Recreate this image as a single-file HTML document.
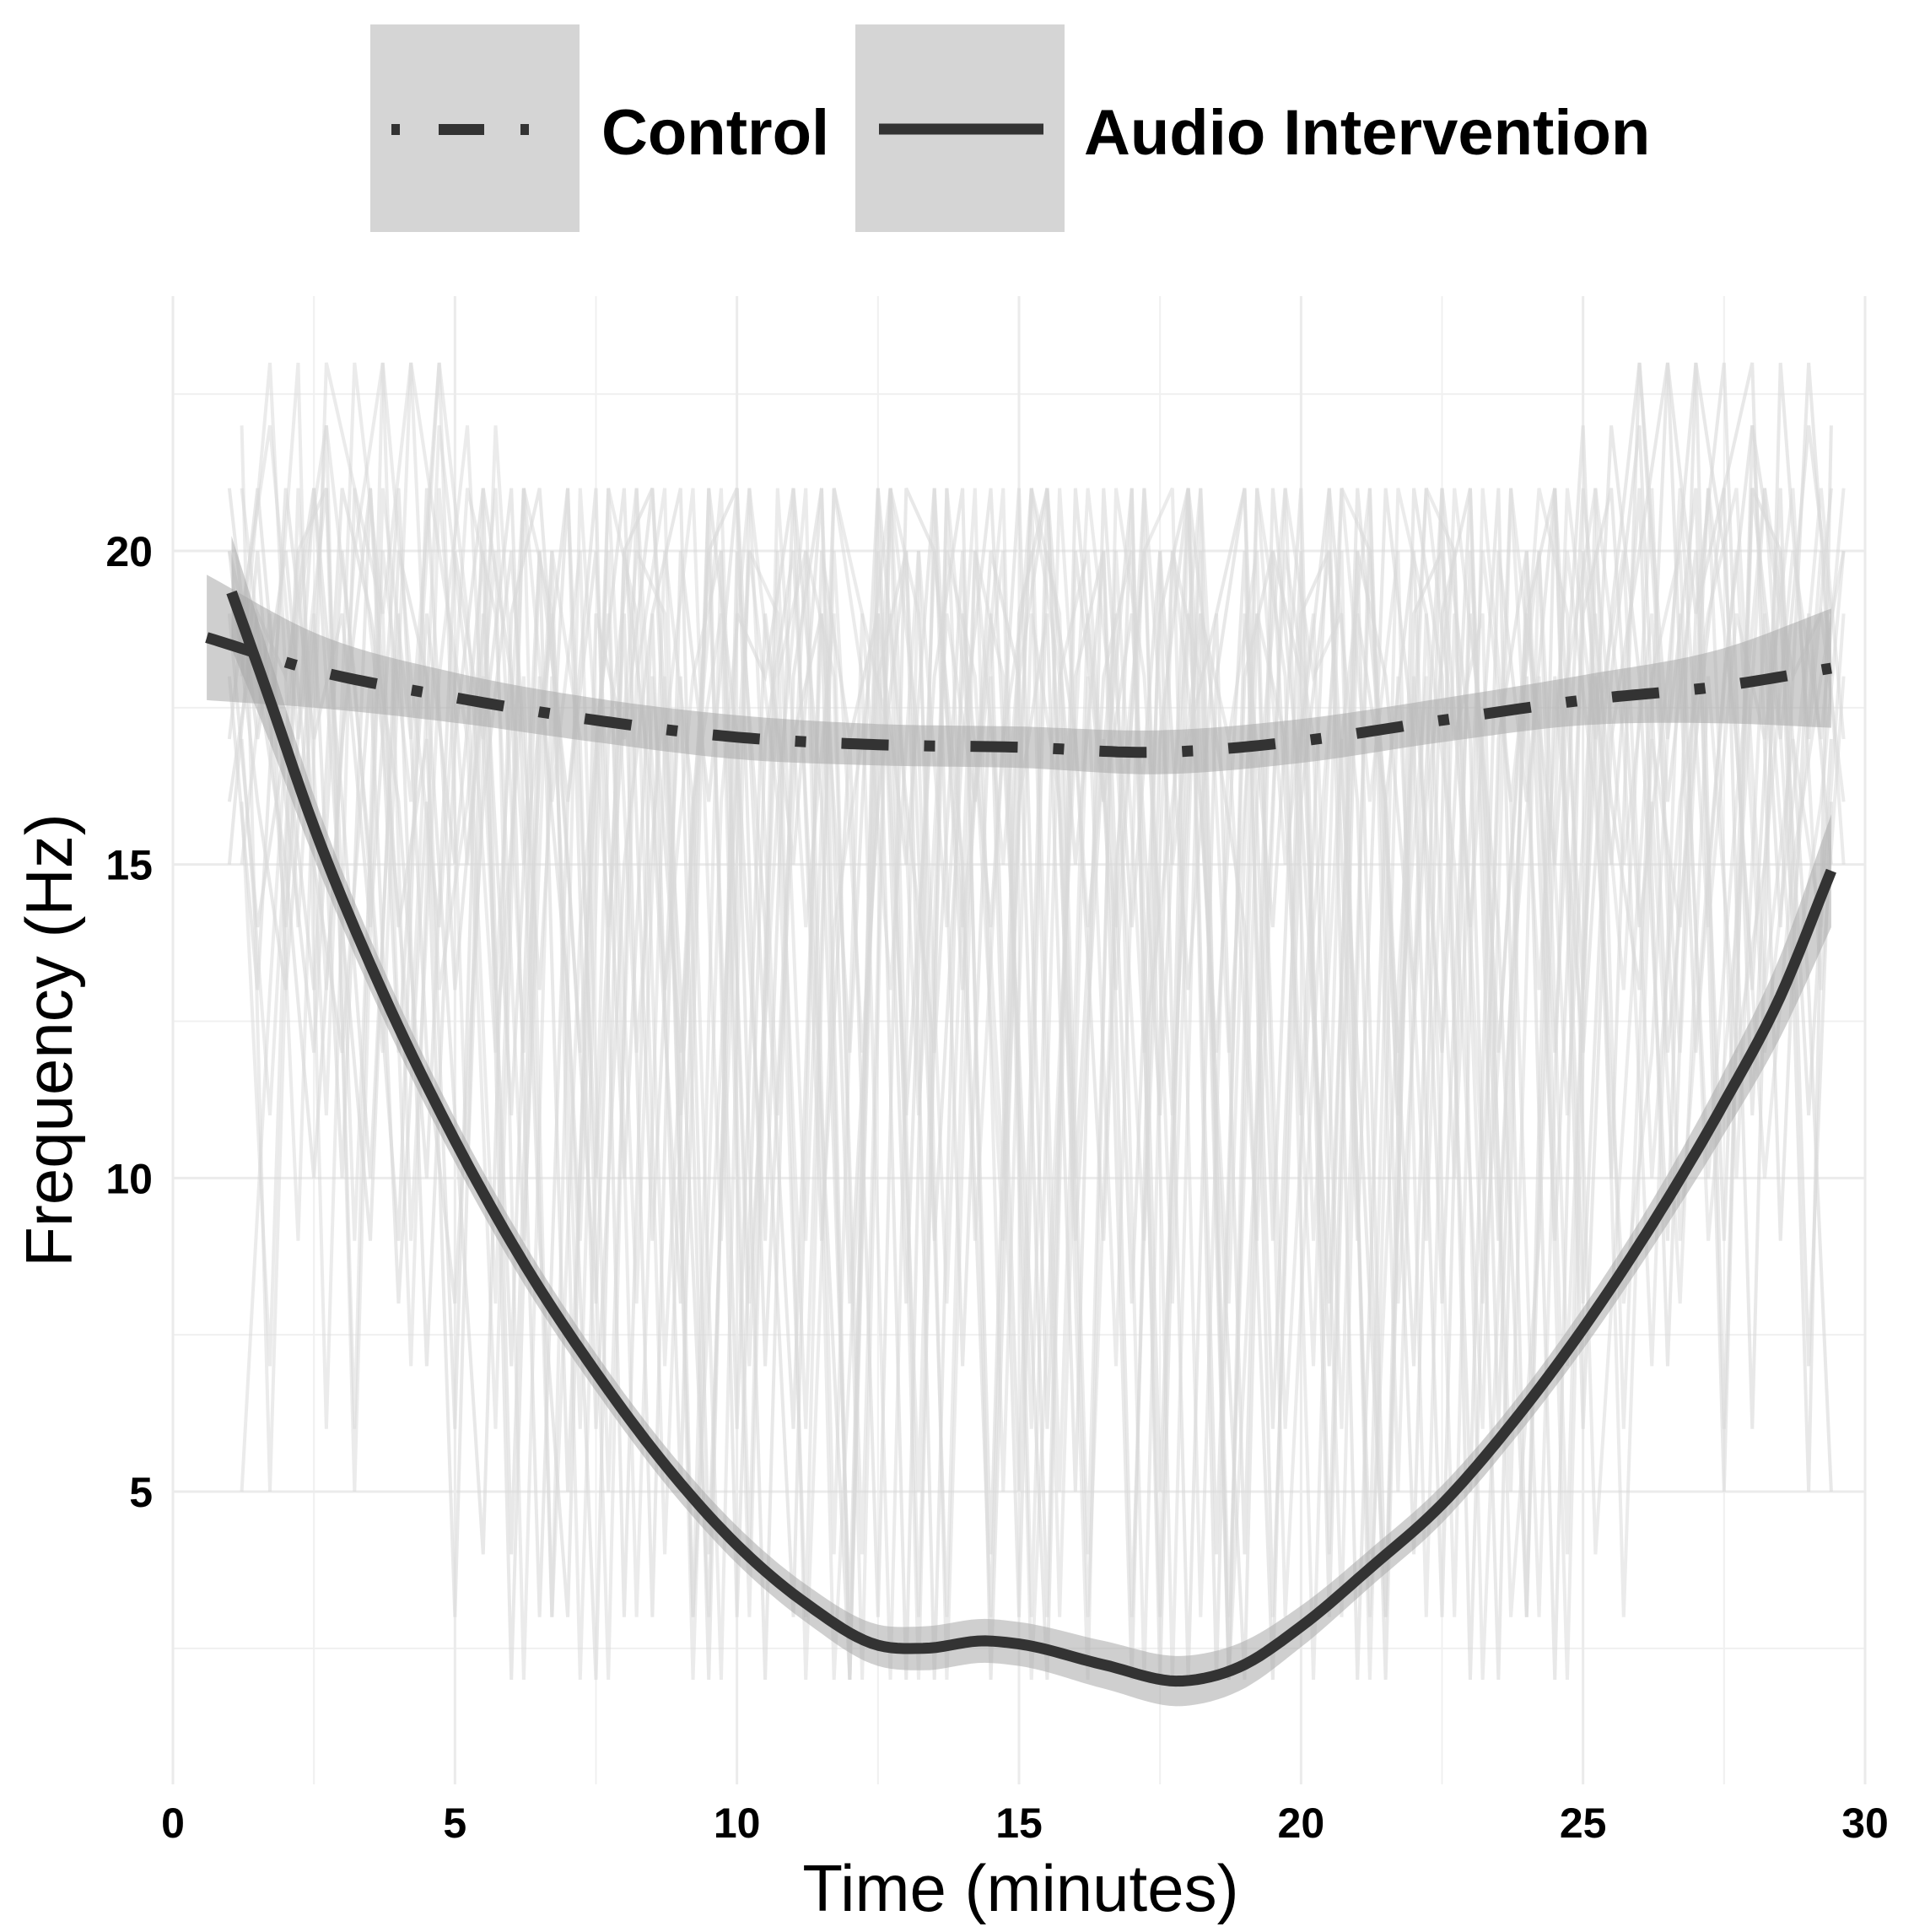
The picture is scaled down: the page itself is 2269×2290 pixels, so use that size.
<!DOCTYPE html>
<html><head><meta charset="utf-8"><style>
html,body{margin:0;padding:0;background:#fff;}
svg{display:block;font-family:"Liberation Sans",sans-serif;}
</style></head><body>
<svg id="chart" width="2269" height="2290" viewBox="0 0 2269 2290">
<g id="grid"></g>
<g id="spaghetti"></g>
<g id="ribbons"></g>
<g id="lines"></g>
<g id="axes"></g>
<g>
  <rect x="439" y="29" width="248" height="246" fill="#d5d5d5"/>
  <g fill="#333">
    <rect x="464" y="147" width="10" height="13"/>
    <rect x="520" y="147" width="54" height="13"/>
    <rect x="617" y="147" width="10" height="13"/>
  </g>
  <text x="713" y="183" font-size="76" font-weight="bold" fill="#000">Control</text>
  <rect x="1014" y="29" width="248" height="246" fill="#d5d5d5"/>
  <line x1="1042" y1="153" x2="1237" y2="153" stroke="#333" stroke-width="13"/>
  <text x="1285" y="183" font-size="76" font-weight="bold" fill="#000">Audio Intervention</text>
</g>
<text x="1210" y="2265" font-size="78" text-anchor="middle" fill="#000">Time (minutes)</text>
<text transform="translate(85,1233) rotate(-90)" x="0" y="0" font-size="78" text-anchor="middle" fill="#000">Frequency (Hz)</text>
</svg>
<script>
const xTicks=[0,5,10,15,20,25,30];
const xMinor=[2.5,7.5,12.5,17.5,22.5,27.5];
const yTicks=[5,10,15,20];
const yMinor=[2.5,7.5,12.5,17.5,22.5];
const controlX=[0.6,2.5,5,7.5,10,12.5,15,17.5,20,22.5,25,27.5,29.4];
const controlY=[18.62,18.1,17.66,17.3,17.03,16.91,16.87,16.79,16.97,17.3,17.62,17.85,18.13];
const controlSE=[1.0,0.6,0.4,0.35,0.35,0.33,0.33,0.35,0.35,0.35,0.4,0.6,0.95];
const audioX=[1.04,1.65,2.5,3.75,5,6.25,7.5,8.75,10,11.25,12.5,13.3,14.4,15,16.5,17.9,18.9,20,21.25,22.5,23.75,25,26.25,27.5,28.5,29.4];
const audioY=[19.34,17.8,15.6,12.9,10.6,8.6,6.9,5.4,4.15,3.2,2.55,2.5,2.62,2.57,2.24,1.98,2.2,2.85,3.8,4.8,6.1,7.6,9.3,11.2,12.9,14.9];
const audioSE=[0.9,0.7,0.5,0.4,0.35,0.33,0.3,0.3,0.3,0.3,0.33,0.35,0.35,0.35,0.38,0.4,0.38,0.33,0.3,0.3,0.3,0.33,0.38,0.5,0.65,0.9];
const traceTimes=[1,1.5,2,2.5,3,3.5,4,4.5,5,5.5,6,6.5,7,7.5,8,8.5,9,9.5,10,10.5,11,11.5,12,12.5,13,13.5,14,14.5,15,15.5,16,16.5,17,17.5,18,18.5,19,19.5,20,20.5,21,21.5,22,22.5,23,23.5,24,24.5,25,25.5,26,26.5,27,27.5,28,28.5,29,29.4];
const trace1=[21,17,20,15,12,18,8,16,3,19,11,20,5,17,21,9,18,2,20,14,6,19,12,21,8,20,15,3,18,21,9,17,2,20,13,19,4,21,16,8,20,3,18,12,21,6,19,15,22,10,23,17,21,5,22,14,23,18];
const trace2=[15,20,14,21,16,10,19,7,17,21,4,18,13,2,20,16,8,21,3,17,20,11,2,19,15,21,7,18,3,20,17,9,21,2,19,12,20,6,17,21,2,16,20,8,19,14,3,21,13,22,18,9,23,20,13,21,7,16];
const trace3=[18,13,21,17,19,14,21,12,8,16,20,13,21,6,15,19,21,4,17,9,21,16,3,20,11,18,21,2,16,19,5,21,14,20,2,18,21,9,20,3,19,16,7,21,17,2,20,12,21,16,13,23,19,21,6,23,17,21];
const trace4=[20,16,13,19,10,21,14,17,6,21,18,3,16,20,10,19,5,21,17,2,18,21,8,16,20,2,19,14,21,6,18,20,3,17,21,11,2,20,18,7,21,16,4,19,21,9,18,2,20,15,21,7,19,23,11,20,5,22];
const trace5=[17,21,16,12,20,15,9,21,13,18,7,20,16,21,3,18,12,20,21,7,17,19,2,21,16,12,20,4,19,21,10,18,20,3,21,17,14,2,19,20,12,3,21,18,5,20,16,21,8,18,22,12,17,21,23,9,19,15];
const trace6=[16,19,18,21,14,9,20,18,11,4,19,21,15,8,20,21,13,3,19,18,21,9,17,3,21,20,14,19,5,21,15,20,8,19,21,4,18,20,11,21,16,2,19,20,14,21,3,18,12,19,23,16,20,9,21,17,22,19];
const trace7=[19,14,17,13,21,19,16,10,20,17,21,9,3,19,17,21,11,20,6,19,15,21,2,18,20,9,17,21,12,2,20,16,21,5,17,19,21,3,16,20,9,21,17,3,20,12,19,21,6,17,20,23,12,18,22,19,11,17];
const trace8=[20,18,15,10,17,21,12,19,15,20,2,17,21,10,19,3,20,16,21,12,3,20,17,19,2,21,13,20,18,3,21,16,19,11,21,2,19,14,21,4,20,18,13,21,2,17,20,9,19,21,14,18,23,6,21,20,13,5];
const traces=[trace1,trace2,trace3,trace4,trace5,trace6,trace7,trace8];

const X0=205,X1=2211,YT=351,YB=2115;
function xs(v){return X0+(v/30)*(X1-X0);}
function ys(v){return 653+(20-v)*(1115/15);}
const NS='http://www.w3.org/2000/svg';
function mk(tag,attrs,parent){const e=document.createElementNS(NS,tag);for(const k in attrs)e.setAttribute(k,attrs[k]);parent.appendChild(e);return e;}
function interp(X,Y){const n=X.length,m=[];for(let i=0;i<n;i++){if(i===0)m.push((Y[1]-Y[0])/(X[1]-X[0]));else if(i===n-1)m.push((Y[n-1]-Y[n-2])/(X[n-1]-X[n-2]));else{const d0=(Y[i]-Y[i-1])/(X[i]-X[i-1]),d1=(Y[i+1]-Y[i])/(X[i+1]-X[i]);const h0=X[i]-X[i-1],h1=X[i+1]-X[i];m.push((d0*h1+d1*h0)/(h0+h1));}}
 const pts=[];for(let i=0;i<n-1;i++){const h=X[i+1]-X[i];const steps=Math.max(4,Math.ceil(h*8));for(let s=0;s<steps;s++){const t=s/steps,t2=t*t,t3=t2*t;const y=(2*t3-3*t2+1)*Y[i]+(t3-2*t2+t)*h*m[i]+(-2*t3+3*t2)*Y[i+1]+(t3-t2)*h*m[i+1];pts.push([X[i]+t*h,y]);}}pts.push([X[n-1],Y[n-1]]);return pts;}
function pathOf(pts){return pts.map((p,i)=>(i?'L':'M')+xs(p[0]).toFixed(1)+','+ys(p[1]).toFixed(1)).join('');}
const grid=document.getElementById('grid');
xMinor.forEach(v=>{const l=mk('line',{x1:xs(v),x2:xs(v),y1:YT,y2:YB,stroke:'#f0f0f0','stroke-width':2},grid);});
yMinor.forEach(v=>{const l=mk('line',{x1:X0,x2:X1,y1:ys(v),y2:ys(v),stroke:'#f0f0f0','stroke-width':2},grid);});
xTicks.forEach(v=>{const l=mk('line',{x1:xs(v),x2:xs(v),y1:YT,y2:YB,stroke:'#ebebeb','stroke-width':3},grid);});
yTicks.forEach(v=>{const l=mk('line',{x1:X0,x2:X1,y1:ys(v),y2:ys(v),stroke:'#ebebeb','stroke-width':3},grid);});
const sp=document.getElementById('spaghetti');
traces.forEach(t=>{let d='';t.forEach((v,i)=>{d+=(i?'L':'M')+xs(traceTimes[i])+','+ys(v);});const p=mk('path',{d:d,fill:'none',stroke:'#d8d8d8','stroke-opacity':0.6,'stroke-width':4},sp);
 let d2='';t.forEach((v,i)=>{const j=t.length-1-i;d2+=(i?'L':'M')+xs(traceTimes[i]+0.22)+','+ys(t[j]);});const p2=mk('path',{d:d2,fill:'none',stroke:'#d8d8d8','stroke-opacity':0.5,'stroke-width':4},sp);});
const rb=document.getElementById('ribbons'),ln=document.getElementById('lines');
function ribbon(X,Y,S,name){const up=interp(X,Y.map((v,i)=>v+S[i]));const lo=interp(X,Y.map((v,i)=>v-S[i])).reverse();const d=pathOf(up)+pathOf(lo).replace(/^M/,'L')+'Z';const p=mk('path',{d:d,fill:'#a8a8a8','fill-opacity':0.55},rb);}
ribbon(controlX,controlY,controlSE,'control-ribbon');
ribbon(audioX,audioY,audioSE,'audio-ribbon');
const c=mk('path',{d:pathOf(interp(controlX,controlY)),fill:'none',stroke:'#333','stroke-width':13,'stroke-dasharray':'56 42 13 42'},ln);

const a=mk('path',{d:pathOf(interp(audioX,audioY)),fill:'none',stroke:'#333','stroke-width':13,'stroke-linejoin':'round'},ln);

const ax=document.getElementById('axes');
xTicks.forEach(v=>{const t=mk('text',{x:xs(v),y:2178,'font-size':50,'font-weight':'bold','text-anchor':'middle',fill:'#000'},ax);t.textContent=v;});
yTicks.forEach(v=>{const t=mk('text',{x:181,y:ys(v)+18,'font-size':50,'font-weight':'bold','text-anchor':'end',fill:'#000'},ax);t.textContent=v;});
</script>
</body></html>
